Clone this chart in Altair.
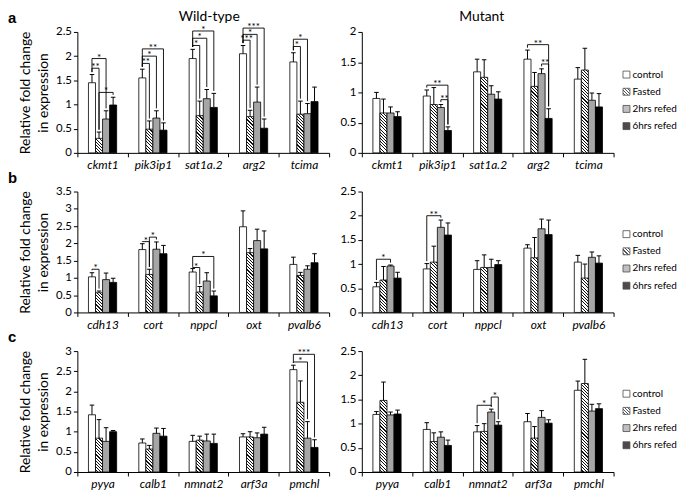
import altair as alt

SERIES = ["control", "Fasted", "2hrs refed", "6hrs refed"]
SOLID = {"control": "white", "2hrs refed": "#a6a6a6", "6hrs refed": "black"}

genes_a = ["ckmt1", "pik3ip1", "sat1a.2", "arg2", "tcima"]
genes_b = ["cdh13", "cort", "nppcl", "oxt", "pvalb6"]
genes_c = ["pyya", "calb1", "nmnat2", "arf3a", "pmchl"]

# rows = series (control, Fasted, 2hrs refed, 6hrs refed); columns = genes
wt_a_mean = [[1.45, 1.55, 1.95, 2.05, 1.88], [0.30, 0.49, 0.77, 0.75, 0.80],
             [0.70, 0.72, 1.12, 1.05, 0.81], [0.99, 0.47, 0.94, 0.51, 1.06]]
wt_a_err = [[0.17, 0.18, 0.19, 0.17, 0.19], [0.13, 0.17, 0.30, 0.13, 0.27],
            [0.17, 0.15, 0.19, 0.31, 0.21], [0.16, 0.15, 0.29, 0.19, 0.30]]
mut_a_mean = [[0.90, 0.94, 1.34, 1.55, 1.22], [0.66, 0.80, 1.25, 1.10, 1.37],
              [0.66, 0.75, 0.97, 1.31, 0.87], [0.60, 0.37, 0.89, 0.57, 0.76]]
mut_a_err = [[0.10, 0.10, 0.21, 0.15, 0.19], [0.23, 0.28, 0.29, 0.23, 0.36],
             [0.10, 0.05, 0.14, 0.08, 0.12], [0.08, 0.06, 0.12, 0.16, 0.22]]
wt_b_mean = [[1.03, 1.82, 1.17, 2.48, 1.39], [0.57, 1.10, 0.59, 1.73, 1.07],
             [0.95, 1.83, 0.91, 2.08, 1.25], [0.87, 1.70, 0.48, 1.84, 1.44]]
wt_b_err = [[0.12, 0.17, 0.10, 0.46, 0.21], [0.05, 0.15, 0.16, 0.12, 0.09],
            [0.19, 0.21, 0.24, 0.33, 0.10], [0.12, 0.24, 0.14, 0.52, 0.26]]
mut_b_mean = [[0.53, 0.90, 0.89, 1.33, 1.04], [0.67, 1.04, 0.93, 1.13, 0.71],
              [0.96, 1.76, 0.93, 1.73, 1.14], [0.71, 1.60, 0.99, 1.61, 1.02]]
mut_b_err = [[0.09, 0.11, 0.18, 0.07, 0.14], [0.28, 0.33, 0.26, 0.42, 0.29],
             [0.02, 0.15, 0.17, 0.20, 0.11], [0.12, 0.25, 0.08, 0.30, 0.15]]
wt_c_mean = [[1.42, 0.72, 0.76, 0.87, 2.54], [0.84, 0.57, 0.79, 0.87, 1.73],
             [0.76, 0.96, 0.77, 0.85, 0.84], [1.00, 0.89, 0.71, 0.94, 0.61]]
wt_c_err = [[0.24, 0.10, 0.15, 0.08, 0.11], [0.46, 0.09, 0.10, 0.13, 0.53],
            [0.34, 0.13, 0.17, 0.12, 0.41], [0.03, 0.19, 0.23, 0.17, 0.19]]
mut_c_mean = [[1.19, 0.88, 0.83, 1.04, 1.69], [1.48, 0.63, 0.84, 0.70, 1.83],
              [1.18, 0.72, 1.24, 1.13, 1.26], [1.20, 0.55, 0.97, 1.01, 1.31]]
mut_c_err = [[0.06, 0.14, 0.13, 0.17, 0.19], [0.38, 0.18, 0.16, 0.24, 0.50],
             [0.06, 0.11, 0.06, 0.14, 0.14], [0.08, 0.11, 0.07, 0.07, 0.10]]

# significance brackets: (gene index, from series, to series, level, label)
wt_a_sig = [(0, 0, 1, 1.75, "**"), (0, 0, 2, 1.95, "*"), (0, 1, 3, 1.25, "*"),
            (1, 0, 1, 1.85, "**"), (1, 0, 2, 2.0, "*"), (1, 0, 3, 2.15, "**"),
            (2, 0, 1, 2.22, "*"), (2, 0, 2, 2.37, "*"), (2, 0, 3, 2.52, "*"),
            (3, 0, 1, 2.33, "***"), (3, 0, 2, 2.45, "*"), (3, 0, 3, 2.58, "***"),
            (4, 0, 1, 2.2, "*"), (4, 0, 2, 2.35, "*")]
mut_a_sig = [(1, 0, 3, 1.12, "**"), (1, 2, 3, 0.88, "**"),
             (3, 0, 3, 1.79, "**"), (3, 2, 3, 1.47, "**")]
wt_b_sig = [(0, 0, 1, 1.25, "*"), (1, 0, 1, 2.05, "*"), (1, 1, 2, 2.18, "*"),
            (2, 0, 1, 1.3, "*"), (2, 0, 3, 1.62, "*")]
mut_b_sig = [(0, 0, 2, 1.1, "*"), (1, 0, 2, 2.0, "**")]
wt_c_sig = [(4, 0, 2, 2.73, "*"), (4, 0, 3, 2.92, "***")]
mut_c_sig = [(2, 0, 2, 1.38, "*"), (2, 2, 3, 1.55, "*")]

W, H = 254, 122
BW = 0.14
CAP = 0.045
FONT = "Lato"


def hatch(w, h, period=3.2, thick=1.1, ink="#111111"):
    L = w + h
    k = L / (w * w + h * h)
    stops = [{"offset": 0, "color": "white"}]
    pos = period / 2
    while pos < L:
        a = round(pos / L, 5)
        b = round(min((pos + thick) / L, 1.0), 5)
        stops += [{"offset": a, "color": "white"}, {"offset": a, "color": ink},
                  {"offset": b, "color": ink}, {"offset": b, "color": "white"}]
        pos += period
    stops.append({"offset": 1, "color": "white"})
    return {"gradient": "linear", "x1": 0, "y1": 1,
            "x2": round(w * k, 5), "y2": round(1 - h * k, 5), "stops": stops}


def center(g, s):
    return g + 0.5 + (s - 1.5) * BW


def panel(genes, means, errs, sig, ymax, title=None, title_dx=0, letter=None, ytitle=None):
    xs = alt.Scale(domain=[0, 5], nice=False, zero=False)
    ys = alt.Scale(domain=[0, ymax], nice=False)
    names = ",".join("'" + g + "'" for g in genes)
    expr = "datum.value % 1 === 0 ? '' : [" + names + "][floor(datum.value)]"
    xaxis = alt.Axis(values=[i * 0.5 for i in range(11)], title=None, labelExpr=expr,
                     tickOpacity={"condition": {"test": "datum.value % 1 !== 0", "value": 0}, "value": 1},
                     tickSize=4, labelPadding=3, labelFontStyle="italic", labelFontSize=12,
                     labelOverlap=False, labelFlush=False)
    yvals = [i * 0.5 for i in range(int(round(ymax / 0.5)) + 1)]
    yaxis = alt.Axis(values=yvals, format="~g", tickSize=4, labelPadding=2, labelFontSize=11.5,
                     title=ytitle if ytitle else None, titleFontSize=14, titleFontWeight="normal",
                     titlePadding=5, titleLineHeight=18)

    rows = []
    for s, name in enumerate(SERIES):
        for g in range(len(genes)):
            m = means[s][g]
            xc = center(g, s)
            if name == "Fasted":
                fill = hatch(BW * W / 5, m * H / ymax)
            else:
                fill = SOLID[name]
            rows.append({"xl": xc - BW / 2, "xr": xc + BW / 2, "xc": xc, "mean": m,
                         "top": m + errs[s][g], "capl": xc - CAP, "capr": xc + CAP, "fill": fill})
    segs, labels = [], []
    gap = 0.02 * ymax
    for g, a, b, lvl, lab in sig:
        xa, xb = center(g, a), center(g, b)
        ta = means[a][g] + errs[a][g] + gap
        tb = means[b][g] + errs[b][g] + gap
        segs += [{"x": xa, "x2": xb, "y": lvl, "y2": lvl},
                 {"x": xa, "x2": xa, "y": lvl, "y2": ta},
                 {"x": xb, "x2": xb, "y": lvl, "y2": tb}]
        labels.append({"x": (xa + xb) / 2, "y": lvl, "t": lab})

    data = alt.Data(values=rows)
    X = lambda f: alt.X(f, type="quantitative", scale=xs, axis=xaxis)
    Y = lambda f: alt.Y(f, type="quantitative", scale=ys, axis=yaxis)

    bars = alt.Chart(data).mark_rect(stroke="black", strokeWidth=0.8).encode(
        x=X("xl"), x2="xr:Q", y=Y("mean"), y2=alt.datum(0),
        fill=alt.Fill("fill:N", scale=None))
    stems = alt.Chart(data).mark_rule(color="black", strokeWidth=1).encode(
        x=X("xc"), y=Y("mean"), y2="top:Q")
    caps = alt.Chart(data).mark_rule(color="black", strokeWidth=1).encode(
        x=X("capl"), x2="capr:Q", y=Y("top"))
    layers = [bars, stems, caps]
    if segs:
        layers.append(alt.Chart(alt.Data(values=segs)).mark_rule(color="black", strokeWidth=0.9).encode(
            x=X("x"), x2="x2:Q", y=Y("y"), y2="y2:Q"))
        layers.append(alt.Chart(alt.Data(values=labels)).mark_text(
            font=FONT, fontSize=10, baseline="alphabetic", dy=2, color="black").encode(
            x=X("x"), y=Y("y"), text="t:N"))
    if letter:
        layers.append(alt.Chart(alt.Data(values=[{"t": letter}])).mark_text(
            font="Liberation Sans", fontWeight="bold", fontSize=15, align="left",
            baseline="alphabetic", color="black").encode(
            x=alt.value(-70), y=alt.value(-9), text="t:N"))
    if title:
        layers.append(alt.Chart(alt.Data(values=[{"t": title}])).mark_text(
            font=FONT, fontSize=14, align="center", baseline="middle", color="black").encode(
            x=alt.value(W / 2 + title_dx), y=alt.value(-15), text="t:N"))
    return alt.layer(*layers).properties(width=W, height=H)


def legend():
    rows = [{"series": s, "fill": hatch(7, 7) if s == "Fasted" else SOLID[s]} for s in SERIES]
    ysc = alt.Scale(domain=SERIES, range=[43, 95], padding=0)
    sq = alt.Chart(alt.Data(values=rows)).mark_square(size=49, stroke="black", strokeWidth=0.8).encode(
        x=alt.value(4), y=alt.Y("series:N", scale=ysc, axis=None),
        fill=alt.Fill("fill:N", scale=None))
    tx = alt.Chart(alt.Data(values=rows)).mark_text(font=FONT, fontSize=10, align="left",
                                                  baseline="middle", color="black").encode(
        x=alt.value(10), y=alt.Y("series:N", scale=ysc, axis=None), text="series:N")
    return alt.layer(sq, tx).properties(width=40, height=H)


YT = ["Relative fold change", "in expression"]

row_a = alt.hconcat(
    panel(genes_a, wt_a_mean, wt_a_err, wt_a_sig, 2.5, title="Wild-type", title_dx=6, letter="a", ytitle=YT),
    alt.hconcat(panel(genes_a, mut_a_mean, mut_a_err, mut_a_sig, 2.0, title="Mutant", title_dx=-6),
                legend(), spacing=6),
    spacing=9)
row_b = alt.hconcat(
    panel(genes_b, wt_b_mean, wt_b_err, wt_b_sig, 3.5, letter="b", ytitle=YT),
    alt.hconcat(panel(genes_b, mut_b_mean, mut_b_err, mut_b_sig, 2.5), legend(), spacing=6),
    spacing=9)
row_c = alt.hconcat(
    panel(genes_c, wt_c_mean, wt_c_err, wt_c_sig, 3.0, letter="c", ytitle=YT),
    alt.hconcat(panel(genes_c, mut_c_mean, mut_c_err, mut_c_sig, 2.5), legend(), spacing=6),
    spacing=9)

chart = alt.vconcat(row_a, row_b, row_c, spacing=0).properties(padding=0).configure_view(
    stroke=None).configure_axis(
    domainColor="black", tickColor="black", labelColor="black", titleColor="black",
    grid=False, labelFont=FONT, titleFont=FONT, domainWidth=1, tickWidth=1)

chart.save("out.html", embed_options={"renderer": "svg", "actions": False})
